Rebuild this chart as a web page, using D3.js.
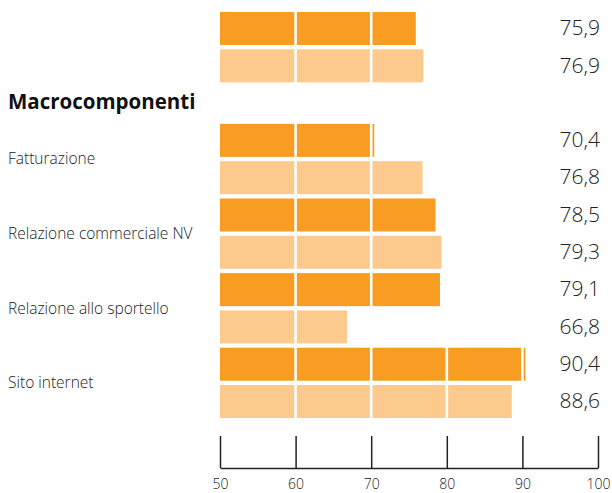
<!DOCTYPE html>
<html><head><meta charset="utf-8">
<script src="https://cdn.jsdelivr.net/npm/d3@7"></script>
<style>
body{margin:0;background:#fff;}
text{font-family:"Open Sans",sans-serif;}
</style></head><body>
<svg id="c" width="612" height="493"></svg>
<script>
const categories = ["", "Fatturazione", "Relazione commerciale NV", "Relazione allo sportello", "Sito internet"];
const seriesDark = [75.9, 70.4, 78.5, 79.1, 90.4];
const seriesLight = [76.9, 76.8, 79.3, 66.8, 88.6];
const header = "Macrocomponenti";
const tickValues = [50, 60, 70, 80, 90, 100];
const gridValues = [60, 70, 80, 90];
const colors = {dark: "#F89D21", light: "#FDCA8D"};

const svg = d3.select("#c");
const x = d3.scaleLinear().domain([50, 100]).range([220, 598]);
// slot layout: group 0 -> slots 0,1 ; header slot 2 ; group k -> 2k+1, 2k+2
const y = d3.scaleBand().domain(d3.range(11)).range([7.7, 422.3]).paddingInner(0.115).paddingOuter(0.115);
const slotOf = (g, s) => g === 0 ? s : 2 * g + 1 + s;

const rows = [];
categories.forEach((c, g) => {
  rows.push({g, s: 0, v: seriesDark[g], color: colors.dark});
  rows.push({g, s: 1, v: seriesLight[g], color: colors.light});
});

svg.append("g").selectAll("rect").data(rows).join("rect")
  .attr("x", x(50))
  .attr("y", d => y(slotOf(d.g, d.s)))
  .attr("width", d => x(d.v) - x(50))
  .attr("height", y.bandwidth())
  .attr("fill", d => d.color);

// white gridlines over bars
svg.append("g").selectAll("line").data(gridValues).join("line")
  .attr("x1", d => x(d)).attr("x2", d => x(d))
  .attr("y1", y(0) - 1).attr("y2", y(10) + y.bandwidth() + 1)
  .attr("stroke", "#fff").attr("stroke-width", 2.6);

// value labels
svg.append("g").selectAll("text").data(rows).join("text")
  .attr("x", 600)
  .attr("y", d => y(slotOf(d.g, d.s)) + y.bandwidth() / 2)
  .attr("dy", "0.32em")
  .attr("text-anchor", "end")
  .attr("font-size", 21)
  .attr("font-weight", 300)
  .attr("fill", "#222")
  .text(d => d3.format(".1f")(d.v).replace(".", ","));

// category labels
svg.append("g").selectAll("text").data(categories.map((c, g) => ({c, g})).filter(d => d.c)).join("text")
  .attr("x", 8)
  .attr("y", d => (y(slotOf(d.g, 0)) + y(slotOf(d.g, 1)) + y.bandwidth()) / 2)
  .attr("dy", "0.35em")
  .attr("font-size", 15.5)
  .attr("font-weight", 300)
  .attr("fill", "#222")
  .text(d => d.c);

svg.append("text")
  .attr("x", 8)
  .attr("y", y(2) + y.bandwidth() / 2 - 1)
  .attr("dy", "0.36em")
  .attr("font-size", 20.5)
  .attr("font-weight", "bold")
  .attr("fill", "#111")
  .text(header);

// axis
const axis = svg.append("g").attr("transform", "translate(0,468)")
  .call(d3.axisBottom(x).tickValues(tickValues).tickFormat(d3.format("d"))
    .tickSizeInner(-32).tickSizeOuter(0).tickPadding(11));
axis.select(".domain").attr("stroke", "#222").attr("stroke-width", 1.5);
axis.selectAll(".tick line").attr("stroke", "#222").attr("stroke-width", 1.5);
axis.selectAll(".tick text").attr("font-size", 14).attr("fill", "#222")
  .attr("font-weight", 300)
  .attr("font-family", "\"Open Sans\",sans-serif");
</script>
</body></html>
